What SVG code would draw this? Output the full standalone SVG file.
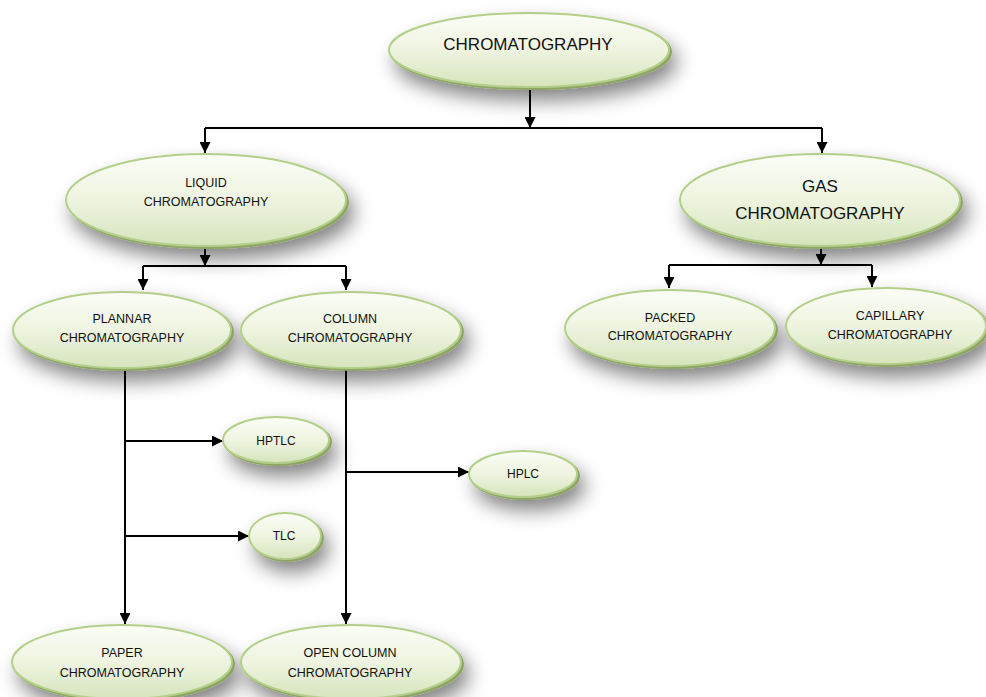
<svg xmlns="http://www.w3.org/2000/svg" width="986" height="697" viewBox="0 0 986 697">
<defs>
<linearGradient id="g" x1="0" y1="0" x2="0" y2="1">
<stop offset="0" stop-color="#fbfdf6"/>
<stop offset="0.5" stop-color="#eef4e0"/>
<stop offset="1" stop-color="#d6e4bc"/>
</linearGradient>
<filter id="sh" x="-35%" y="-50%" width="180%" height="220%">
<feGaussianBlur in="SourceAlpha" stdDeviation="10" result="b"/>
<feOffset in="b" dx="7" dy="12" result="ob"/>
<feComponentTransfer in="ob" result="s"><feFuncA type="linear" slope="0.5"/></feComponentTransfer>
<feOffset in="SourceAlpha" dx="1.5" dy="2" result="e"/>
<feFlood flood-color="#8ea565"/>
<feComposite in2="e" operator="in" result="edge"/>
<feMerge><feMergeNode in="s"/><feMergeNode in="edge"/><feMergeNode in="SourceGraphic"/></feMerge>
</filter>
<marker id="ah" markerUnits="userSpaceOnUse" markerWidth="11" markerHeight="11" viewBox="0 0 11 11" refX="11" refY="5.5" orient="auto">
<path d="M0,0 L11,5.5 L0,11 z" fill="#000"/>
</marker>
</defs>
<style>
.n ellipse{fill:url(#g);stroke:#b3cf8a;stroke-width:2;filter:url(#sh)}
text{font-family:"Liberation Sans",Arial,sans-serif;fill:#111;text-anchor:middle}
.L{font-size:17px}
.M{font-size:12.5px}
.S{font-size:12px}
#connectors path{fill:none;stroke:#000;stroke-width:2}
.a{marker-end:url(#ah)}
</style>
<rect width="986" height="697" fill="#fff"/>
<g id="connectors">
<path class="a" d="M530,88 V128"/>
<path d="M205,128 H822"/>
<path class="a" d="M205,128 V153"/>
<path class="a" d="M822,128 V153"/>
<path class="a" d="M205,246 V266"/>
<path d="M143,266 H346"/>
<path class="a" d="M143,266 V290"/>
<path class="a" d="M346,266 V290"/>
<path class="a" d="M821,246 V265"/>
<path d="M669,265 H872"/>
<path class="a" d="M669,265 V288"/>
<path class="a" d="M872,265 V287"/>
<path class="a" d="M125,368 V624"/>
<path class="a" d="M125,441 H223"/>
<path class="a" d="M125,536 H249"/>
<path class="a" d="M346,368 V624"/>
<path class="a" d="M346,472 H469"/>
</g>
<g id="chromatography" class="n"><ellipse cx="529" cy="50" rx="140" ry="37"/><text class="L" x="528" y="50">CHROMATOGRAPHY</text></g>
<g id="liquid" class="n"><ellipse cx="206" cy="200" rx="140" ry="46"/><text class="M" x="206" y="187">LIQUID</text><text class="M" x="206" y="206">CHROMATOGRAPHY</text></g>
<g id="gas" class="n"><ellipse cx="820" cy="200" rx="140" ry="46"/><text class="L" x="820" y="192">GAS</text><text class="L" x="820" y="219">CHROMATOGRAPHY</text></g>
<g id="plannar" class="n"><ellipse cx="122" cy="330" rx="109" ry="38"/><text class="M" x="122" y="323">PLANNAR</text><text class="M" x="122" y="342">CHROMATOGRAPHY</text></g>
<g id="column" class="n"><ellipse cx="351" cy="330" rx="110" ry="38"/><text class="M" x="350" y="323">COLUMN</text><text class="M" x="350" y="342">CHROMATOGRAPHY</text></g>
<g id="packed" class="n"><ellipse cx="670" cy="328" rx="105" ry="38"/><text class="M" x="670" y="322">PACKED</text><text class="M" x="670" y="340">CHROMATOGRAPHY</text></g>
<g id="capillary" class="n"><ellipse cx="886" cy="326" rx="100" ry="38"/><text class="M" x="890" y="320">CAPILLARY</text><text class="M" x="890" y="339">CHROMATOGRAPHY</text></g>
<g id="hptlc" class="n"><ellipse cx="276" cy="440" rx="53" ry="23"/><text class="S" x="276" y="445">HPTLC</text></g>
<g id="hplc" class="n"><ellipse cx="523" cy="474" rx="54" ry="23"/><text class="S" x="523" y="478">HPLC</text></g>
<g id="tlc" class="n"><ellipse cx="285" cy="536" rx="36" ry="23"/><text class="S" x="284" y="540">TLC</text></g>
<g id="paper" class="n"><ellipse cx="122" cy="662" rx="110" ry="37"/><text class="M" x="122" y="657">PAPER</text><text class="M" x="122" y="677">CHROMATOGRAPHY</text></g>
<g id="open-column" class="n"><ellipse cx="351" cy="662" rx="110" ry="37"/><text class="M" x="350" y="657">OPEN COLUMN</text><text class="M" x="350" y="677">CHROMATOGRAPHY</text></g>
</svg>
